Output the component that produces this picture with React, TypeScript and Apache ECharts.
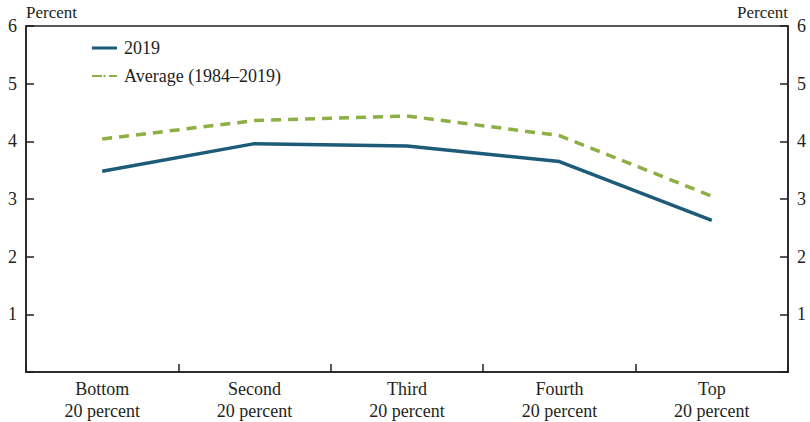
import React, { useEffect, useRef } from "react";
import * as echarts from "echarts";

const categories = ["Bottom\n20 percent", "Second\n20 percent", "Third\n20 percent", "Fourth\n20 percent", "Top\n20 percent"];
const values2019 = [3.48, 3.96, 3.92, 3.65, 2.63];
const valuesAverage = [4.04, 4.36, 4.44, 4.1, 3.05];
const yTicks = ["", "1", "2", "3", "4", "5", "6"];

const FONT = "Liberation Serif";
const INK = "#231f20";
const BLUE = "#1e5b78";
const GREEN = "#8cb043";

export default function App() {
  const ref = useRef<HTMLDivElement>(null);
  useEffect(() => {
    const chart = echarts.init(ref.current!, undefined, { renderer: "svg" });
    const yAxisBase = (pos: "left" | "right") => ({
      type: "value" as const,
      position: pos,
      min: 0,
      max: 6,
      interval: 1,
      name: "Percent",
      nameLocation: "end" as const,
      nameGap: 5,
      nameTextStyle: {
        fontFamily: FONT,
        fontSize: 17,
        color: INK,
        align: pos === "left" ? ("left" as const) : ("right" as const),
      },
      axisLine: { show: true, lineStyle: { color: INK, width: 1.5 } },
      axisTick: { show: true, inside: true, length: 8, lineStyle: { color: INK, width: 1.5 } },
      splitLine: { show: false },
      axisLabel: {
        fontFamily: FONT,
        fontSize: 18,
        color: INK,
        margin: 9,
        formatter: (v: number) => yTicks[Math.round(v)] ?? "",
      },
    });
    chart.setOption({
      animation: false,
      backgroundColor: "#ffffff",
      grid: {
        left: 26,
        right: 22,
        top: 26,
        bottom: 48,
        show: true,
        borderColor: INK,
        borderWidth: 1.5,
      },
      legend: {
        orient: "vertical",
        left: 86,
        top: 34,
        itemWidth: 25,
        itemHeight: 3,
        itemGap: 10,
        textStyle: { fontFamily: FONT, fontSize: 18, color: INK, padding: [0, 0, 0, 2] },
        data: [
          { name: "2019", icon: "rect" },
          { name: "Average (1984–2019)" },
        ],
      },
      xAxis: {
        type: "category",
        data: categories,
        boundaryGap: true,
        axisLine: { show: true, lineStyle: { color: INK, width: 1.5 } },
        axisTick: { show: true, inside: true, length: 8, lineStyle: { color: INK, width: 1.5 } },
        axisLabel: {
          fontFamily: FONT,
          fontSize: 18,
          color: INK,
          margin: 6,
          lineHeight: 22,
        },
      },
      yAxis: [yAxisBase("left"), yAxisBase("right")],
      series: [
        {
          name: "2019",
          type: "line",
          data: values2019,
          symbol: "none",
          lineStyle: { color: BLUE, width: 3.5 },
          itemStyle: { color: BLUE },
        },
        {
          name: "Average (1984–2019)",
          type: "line",
          data: valuesAverage,
          symbol: "none",
          lineStyle: { color: GREEN, width: 3.5, type: [10, 7] },
          itemStyle: { color: GREEN },
        },
      ],
    });
    return () => chart.dispose();
  }, []);
  return <div ref={ref} style={{ position: "fixed", left: 0, top: 0, width: 810, height: 422 }} />;
}
